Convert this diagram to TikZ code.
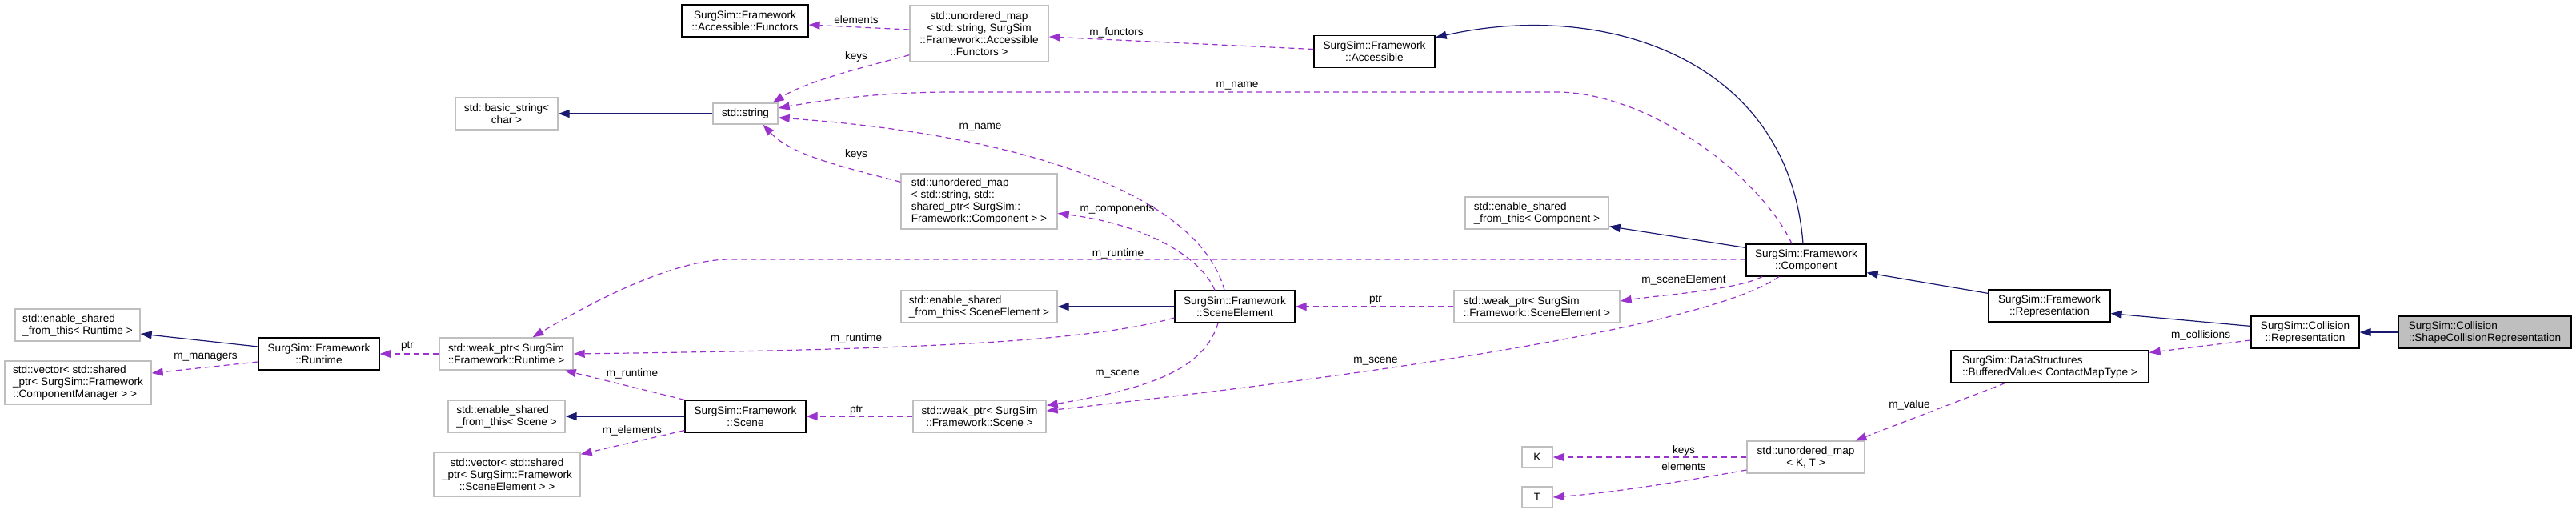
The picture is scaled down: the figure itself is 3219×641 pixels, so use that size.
\documentclass[tikz,border=0pt]{standalone}
\usepackage{fontspec}
\setmainfont{Liberation Sans}
\usepackage{xcolor}
\usetikzlibrary{arrows.meta}
\definecolor{inhblue}{HTML}{191970}
\definecolor{usepurple}{HTML}{9A32CD}
\definecolor{extgray}{HTML}{BFBFBF}

\begin{document}
\begin{tikzpicture}[x=1pt,y=-1pt,font=\fontsize{13.6}{15}\selectfont,
  cls/.style={draw=black,line width=1.2pt,fill=white,inner sep=2pt,minimum height=40pt,align=center},
  ext/.style={cls,draw=extgray,line width=1.4pt},
  main/.style={cls,fill=extgray},
  inh/.style={draw=inhblue,line width=1.2pt,-{Triangle[length=14pt,width=10pt]}},
  use/.style={draw=usepurple,line width=1.2pt,dash pattern=on 7pt off 5pt,-{Triangle[length=14pt,width=10pt]}},
  lbl/.style={text=black,inner sep=0pt}]
\useasboundingbox (0,0) rectangle (3219,641);

\node[cls,minimum width=158pt] (functors) at (931,26) {SurgSim::Framework\\::Accessible::Functors};
\node[ext,minimum width=128pt] (basicstr) at (633,142) {std::basic\_string<\\char >};
\node[ext,minimum width=81pt,minimum height=26pt] (stdstr) at (931.5,142) {std::string};
\node[ext,minimum width=173pt,minimum height=70pt] (umapfun) at (1223.5,42) {std::unordered\_map\\< std::string, SurgSim\\::Framework::Accessible\\::Functors >};
\node[cls,minimum width=151pt] (accessible) at (1717.5,64.5) {SurgSim::Framework\\::Accessible};
\node[ext,align=left,minimum width=195pt,minimum height=69pt] (umapcomp) at (1223.5,251.5) {std::unordered\_map\\< std::string, std::\\shared\_ptr< SurgSim::\\Framework::Component > >};
\node[ext,align=left,minimum width=179pt] (escomp) at (1920.5,266) {std::enable\_shared\\\_from\_this< Component >};
\node[cls,minimum width=150pt] (component) at (2257,325) {SurgSim::Framework\\::Component};
\node[cls,minimum width=152pt] (fwrepr) at (2561,382) {SurgSim::Framework\\::Representation};
\node[cls,minimum width=135pt] (colrepr) at (2880.5,415) {SurgSim::Collision\\::Representation};
\node[main,align=left,minimum width=216pt] (shapecol) at (3105,415) {SurgSim::Collision\\::ShapeCollisionRepresentation};
\node[cls,align=left,minimum width=247pt] (buffered) at (2561.5,458) {SurgSim::DataStructures\\::BufferedValue< ContactMapType >};
\node[ext,minimum width=147pt] (umapkt) at (2256.5,571) {std::unordered\_map\\< K, T >};
\node[ext,align=left,minimum width=195pt] (essceneel) at (1223.5,383) {std::enable\_shared\\\_from\_this< SceneElement >};
\node[cls,minimum width=150pt] (sceneel) at (1543,383) {SurgSim::Framework\\::SceneElement};
\node[ext,align=left,minimum width=207pt] (wpsceneel) at (1920.5,383) {std::weak\_ptr< SurgSim\\::Framework::SceneElement >};
\node[ext,minimum width=166pt] (wpscene) at (1224,520) {std::weak\_ptr< SurgSim\\::Framework::Scene >};
\node[ext,minimum width=38pt,minimum height=26pt] (k) at (1921,571) {K};
\node[ext,minimum width=38pt,minimum height=26pt] (t) at (1921,621) {T};
\node[ext,align=left,minimum width=156pt] (esruntime) at (97,406) {std::enable\_shared\\\_from\_this< Runtime >};
\node[ext,align=left,minimum width=183pt,minimum height=54pt] (veccm) at (97.5,478) {std::vector< std::shared\\\_ptr< SurgSim::Framework\\::ComponentManager > >};
\node[cls,minimum width=151pt] (runtime) at (398.5,442) {SurgSim::Framework\\::Runtime};
\node[ext,minimum width=167pt] (wpruntime) at (632.5,442) {std::weak\_ptr< SurgSim\\::Framework::Runtime >};
\node[ext,align=left,minimum width=146pt] (esscene) at (633,520) {std::enable\_shared\\\_from\_this< Scene >};
\node[cls,minimum width=151pt] (scene) at (931.5,520) {SurgSim::Framework\\::Scene};
\node[ext,minimum width=183pt,minimum height=55pt] (vecse) at (633.5,592.5) {std::vector< std::shared\\\_ptr< SurgSim::Framework\\::SceneElement > >};

\draw[inh] (stdstr) -- (basicstr);
\draw[inh] ([xshift=-4pt]component.north) .. controls (2235,70) and (2000,0) .. ([yshift=-3pt]accessible.north east);
\draw[inh] ([yshift=-5pt]component.north west) -- ([yshift=4pt]escomp.south east);
\draw[inh] ([yshift=-5pt]fwrepr.north west) -- ([yshift=5pt]component.south east);
\draw[inh] ([yshift=-13pt]colrepr.north west) -- ([yshift=11pt]fwrepr.south east);
\draw[inh] (shapecol) -- (colrepr);
\draw[inh] (sceneel) -- (essceneel);
\draw[inh] ([yshift=9pt]runtime.west) -- ([yshift=-11pt]esruntime.east);
\draw[inh] (scene) -- (esscene);

\draw[use] ([yshift=5pt]umapfun.west) -- ([yshift=-5pt]functors.east) node[lbl] at (1070,25) {elements};
\draw[use] ([yshift=3pt]accessible.west) -- ([yshift=-4pt]umapfun.east) node[lbl] at (1395,41) {m\_functors};
\draw[use] ([yshift=9pt]umapfun.south west) .. controls (1095,80) and (1010,100) .. ([xshift=-7pt]stdstr.north east) node[lbl] at (1070,71) {keys};
\draw[use] ([xshift=-18pt]component.north) .. controls (2200,220) and (2060,115) .. (1945,115) -- (1191,115) .. controls (1100,115) and (1030,125) .. ([yshift=7pt]stdstr.east) node[lbl] at (1546,107) {m\_name};
\draw[use] ([xshift=-13pt]sceneel.north) .. controls (1500,250) and (1300,170) .. ([yshift=-5pt]stdstr.east) node[lbl] at (1225,159) {m\_name};
\draw[use] ([yshift=-11pt]umapcomp.north west) .. controls (1060,210) and (990,195) .. ([xshift=22pt]stdstr.south) node[lbl] at (1070,193) {keys};
\draw[use] ([yshift=1pt]component.west) -- (912,324) .. controls (830,324) and (710,395) .. ([xshift=33pt]wpruntime.north) node[lbl] at (1397,317) {m\_runtime};
\draw[use] ([yshift=-14pt]sceneel.west) .. controls (1350,430) and (1100,437) .. (wpruntime.east) node[lbl] at (1070,423) {m\_runtime};
\draw[use] (scene.north west) -- ([xshift=-11pt]wpruntime.south east) node[lbl] at (790,467) {m\_runtime};
\draw[use] (wpruntime) -- (runtime) node[lbl] at (509,433) {ptr};
\draw[use] ([yshift=-10pt]runtime.west) -- ([yshift=12pt]veccm.east) node[lbl] at (257,446) {m\_managers};
\draw[use] ([yshift=3pt]scene.south west) -- ([yshift=-3pt]vecse.north east) node[lbl] at (790,538) {m\_elements};
\draw[use] (wpscene) -- (scene) node[lbl] at (1070,513) {ptr};
\draw[use] ([xshift=-21pt]sceneel.south) .. controls (1505,460) and (1440,485) .. ([yshift=-7pt]wpscene.north east) node[lbl] at (1396,467) {m\_scene};
\draw[use] ([xshift=-34pt]component.south) .. controls (2130,410) and (1700,470) .. ([yshift=7pt]wpscene.east) node[lbl] at (1719,451) {m\_scene};
\draw[use] ([xshift=-55pt]component.south) .. controls (2170,362) and (2080,368) .. ([yshift=7pt]wpsceneel.east) node[lbl] at (2104,350) {m\_sceneElement};
\draw[use] (wpsceneel) -- (sceneel) node[lbl] at (1719,375) {ptr};
\draw[use] ([xshift=-25pt]sceneel.north) .. controls (1500,320) and (1430,280) .. ([yshift=-15pt]umapcomp.east) node[lbl] at (1396,262) {m\_components};
\draw[use] ([yshift=-10pt]colrepr.west) -- ([yshift=-3pt]buffered.north east) node[lbl] at (2750,419) {m\_collisions};
\draw[use] ([xshift=-56pt]buffered.south) -- ([xshift=62pt]umapkt.north) node[lbl] at (2386,506) {m\_value};
\draw[use] (umapkt) -- (k) node[lbl] at (2104,563) {keys};
\draw[use] ([yshift=-16pt]umapkt.west) .. controls (2110,600) and (2020,615) .. (t.east) node[lbl] at (2104,583) {elements};
\end{tikzpicture}
\end{document}
